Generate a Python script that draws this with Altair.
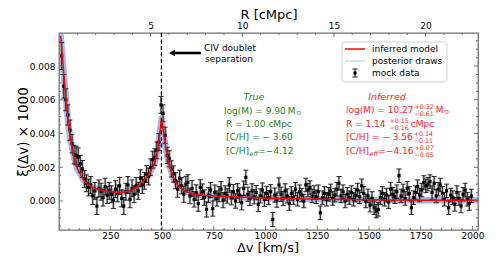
import altair as alt
import pandas as pd

# ---------------- data ----------------
dv_mock = [
    15, 25, 35, 45, 55, 65, 75, 85, 95, 105,
    115, 125, 135, 145, 155, 165, 175, 185, 195, 205,
    215, 225, 235, 245, 255, 265, 275, 285, 295, 305,
    315, 325, 335, 345, 355, 365, 375, 385, 395, 405,
    415, 425, 435, 445, 455, 465, 475, 485, 495, 505,
    515, 525, 535, 545, 555, 565, 575, 585, 595, 605,
    615, 625, 635, 645, 655, 665, 675, 685, 695, 705,
    715, 725, 735, 745, 755, 765, 775, 785, 795, 805,
    815, 825, 835, 845, 855, 865, 875, 885, 895, 905,
    915, 925, 935, 945, 955, 965, 975, 985, 995, 1005,
    1015, 1025, 1035, 1045, 1055, 1065, 1075, 1085, 1095, 1105,
    1115, 1125, 1135, 1145, 1155, 1165, 1175, 1185, 1195, 1205,
    1215, 1225, 1235, 1245, 1255, 1265, 1275, 1285, 1295, 1305,
    1315, 1325, 1335, 1345, 1355, 1365, 1375, 1385, 1395, 1405,
    1415, 1425, 1435, 1445, 1455, 1465, 1475, 1485, 1495, 1505,
    1515, 1525, 1535, 1545, 1555, 1565, 1575, 1585, 1595, 1605,
    1615, 1625, 1635, 1645, 1655, 1665, 1675, 1685, 1695, 1705,
    1715, 1725, 1735, 1745, 1755, 1765, 1775, 1785, 1795, 1805,
    1815, 1825, 1835, 1845, 1855, 1865, 1875, 1885, 1895, 1905,
    1915, 1925, 1935, 1945, 1955, 1965, 1975, 1985, 1995,
]
# xi(dv) in units of 1e-3
xi_mock_e3 = [
    8.6, 6.8, 6.0, 5.1, 4.2, 3.4, 2.75, 2.7, 2.6, 2.2,
    1.9, 1.3, 1.05, 0.8, 0.95, 0.3, 0.6, -0.3, 0.75, 0.55,
    0.2, 0.85, 0.35, 0.6, 0.4, 0.05, 0.7, 0.45, 0.9, 0.15,
    -0.3, 0.55, 0.95, 0.1, 0.75, 0.4, 0.9, 0.6, 1.35, 0.95,
    1.2, 1.6, 1.45, 2.0, 2.45, 2.6, 3.0, 3.5, 5.7, 5.2,
    3.9, 2.7, 2.5, 1.9, 1.6, 1.2, 0.7, 1.35, 0.9, 0.4,
    1.0, 1.1, 0.3, 0.75, 0.1, 0.5, -0.15, 0.8, 0.55, 0.2,
    -0.5, 0.35, 0.65, -0.45, 0.5, 0.15, 0.4, 0.7, 0.05, 0.45,
    0.3, 0.95, 0.2, 0.55, 0.0, 0.6, 0.35, -0.1, 0.75, 1.4,
    0.4, 0.15, 0.6, 0.25, 0.5, -0.2, 0.3, 0.65, 0.1, 0.45,
    0.2, 0.55, -1.1, 0.35, 0.05, 0.95, 0.4, 0.15, 0.6, 0.3,
    -0.15, 0.45, 0.2, 0.7, 0.1, 0.55, 0.35, 0.0, 0.95, 0.65,
    0.8, 0.3, 0.5, 0.25, 0.55, -0.7, 0.2, 0.45, 0.1, 0.4,
    0.6, 0.15, 0.35, 0.7, 1.05, 0.3, 0.55, 0.0, 0.4, 0.2,
    0.5, 0.1, 0.35, 0.65, 0.25, 0.9, 0.45, 0.0, 0.3, -0.25,
    0.15, -0.4, -0.6, -0.5, 0.2, 0.45, 0.1, 0.35, -0.05, 0.7,
    0.4, 0.25, 0.55, 1.5, 0.3, 0.6, 0.15, 0.75, 0.45, -0.4,
    0.2, 0.5, 0.85, 0.35, 0.65, 1.1, 0.9, 1.0, 1.15, 0.5,
    1.05, 0.3, 0.7, 0.95, 0.45, 0.1, 0.6, -0.4, 0.35, 0.2,
    -0.2, 0.5, 0.15, -0.3, 0.4, 0.65, 0.1, -0.15, 0.3,
]
err_mock_e3 = [
    0.8, 0.7, 0.65, 0.6, 0.6, 0.55, 0.55, 0.55, 0.55, 0.5,
    0.5, 0.5, 0.5, 0.5, 0.5, 0.5, 0.5, 0.5, 0.5, 0.5,
    0.5, 0.5, 0.5, 0.5, 0.5, 0.5, 0.5, 0.5, 0.5, 0.5,
    0.5, 0.5, 0.5, 0.5, 0.5, 0.5, 0.5, 0.5, 0.5, 0.5,
    0.5, 0.5, 0.5, 0.5, 0.5, 0.5, 0.5, 0.5, 0.5, 0.5,
    0.48, 0.48, 0.48, 0.48, 0.48, 0.48, 0.48, 0.48, 0.48, 0.48,
    0.46, 0.46, 0.46, 0.46, 0.46, 0.46, 0.46, 0.46, 0.46, 0.46,
    0.45, 0.45, 0.45, 0.45, 0.45, 0.45, 0.45, 0.45, 0.45, 0.45,
    0.43, 0.43, 0.43, 0.43, 0.43, 0.43, 0.43, 0.43, 0.43, 0.43,
    0.42, 0.42, 0.42, 0.42, 0.42, 0.42, 0.42, 0.42, 0.42, 0.42,
    0.42, 0.42, 0.42, 0.42, 0.42, 0.42, 0.42, 0.42, 0.42, 0.42,
    0.4, 0.4, 0.4, 0.4, 0.4, 0.4, 0.4, 0.4, 0.4, 0.4,
    0.4, 0.4, 0.4, 0.4, 0.4, 0.4, 0.4, 0.4, 0.4, 0.4,
    0.4, 0.4, 0.4, 0.4, 0.4, 0.4, 0.4, 0.4, 0.4, 0.4,
    0.4, 0.4, 0.4, 0.4, 0.4, 0.4, 0.4, 0.4, 0.4, 0.4,
    0.4, 0.4, 0.4, 0.4, 0.4, 0.4, 0.4, 0.4, 0.4, 0.4,
    0.4, 0.4, 0.4, 0.4, 0.4, 0.4, 0.4, 0.4, 0.4, 0.4,
    0.4, 0.4, 0.4, 0.4, 0.4, 0.4, 0.4, 0.4, 0.4, 0.4,
    0.4, 0.4, 0.4, 0.4, 0.4, 0.4, 0.4, 0.4, 0.4, 0.4,
    0.4, 0.4, 0.4, 0.4, 0.4, 0.4, 0.4, 0.4, 0.4,
]
dv_model = [10, 20, 30, 40, 50, 60, 70, 80, 90, 100,
            120, 140, 160, 180, 200, 225, 250, 275, 300, 325,
            350, 375, 400, 420, 440, 455, 465, 475, 485, 490,
            495, 498, 505, 510, 520, 530, 540, 550, 560, 575,
            590, 610, 630, 650, 700, 750, 800, 900, 1000, 1200,
            1400, 1600, 1800, 2000, 2027]
xi_model_e3 = [9.8, 8.3, 6.8, 5.4, 4.3, 3.5, 2.9, 2.35, 1.95, 1.7,
               1.25, 1.0, 0.83, 0.74, 0.67, 0.6, 0.56, 0.52, 0.51, 0.55,
               0.64, 0.8, 1.05, 1.3, 1.65, 2.0, 2.3, 2.8, 3.6, 4.1,
               4.6, 4.9, 4.2, 3.8, 3.0, 2.4, 1.95, 1.55, 1.25, 0.95,
               0.76, 0.6, 0.5, 0.42, 0.34, 0.29, 0.26, 0.22, 0.18, 0.12,
               0.09, 0.06, 0.05, 0.04, 0.04]
civ_sep = [497]

v_ticks_major = [250, 500, 750, 1000, 1250, 1500, 1750, 2000]
v_ticks_minor = [50, 100, 150, 200, 300, 350, 400, 450, 550, 600, 650, 700,
                 800, 850, 900, 950, 1050, 1100, 1150, 1200, 1300, 1350, 1400,
                 1450, 1550, 1600, 1650, 1700, 1800, 1850, 1900, 1950]
y_ticks_major = [0.0, 0.002, 0.004, 0.006, 0.008]
y_ticks_minor = [-0.0015, -0.001, -0.0005, 0.0005, 0.001, 0.0015, 0.0025, 0.003,
                 0.0035, 0.0045, 0.005, 0.0055, 0.0065, 0.007, 0.0075, 0.0085,
                 0.009, 0.0095]
r_ticks_major = [5, 10, 15, 20]
r_ticks_minor = [1, 2, 3, 4, 6, 7, 8, 9, 11, 12, 13, 14, 16, 17, 18, 19, 21, 22]

V_DOMAIN = [2, 2027]
R_DOMAIN = [0, 22.86]
Y_DOMAIN = [-0.00172, 0.00996]

# ---------------- layout ----------------
W, H = 419, 197
LEFT, TOP = 59, 33
FONT = "DejaVu Sans"
FRAME = "#707070"
MAIN = 9.0      # annotation font size
SMALL = 6.3     # super/subscript font size

# approximate DejaVu Sans advance widths (em) for chaining text pieces
EM = {" ": 0.318, "(": 0.390, ")": 0.390, "=": 0.838, "+": 0.838, "−": 0.838,
      ".": 0.318, "l": 0.278, "o": 0.612, "g": 0.635, "M": 0.863, "R": 0.695,
      "[": 0.390, "]": 0.390, "C": 0.698, "/": 0.337, "H": 0.752, "c": 0.550,
      "p": 0.635, "e": 0.615, "f": 0.352}


def tw(s, size):
    return sum(EM.get(ch, 0.636) for ch in s) * size


mock = pd.DataFrame({
    "v": dv_mock,
    "y": [a / 1000 for a in xi_mock_e3],
    "lo": [(a - e) / 1000 for a, e in zip(xi_mock_e3, err_mock_e3)],
    "hi": [(a + e) / 1000 for a, e in zip(xi_mock_e3, err_mock_e3)],
})
model = pd.DataFrame({"v": dv_model, "y": [a / 1000 for a in xi_model_e3]})

vscale = alt.Scale(domain=V_DOMAIN, nice=False, zero=False)
yscale = alt.Scale(domain=Y_DOMAIN, nice=False, zero=False)
rscale = alt.Scale(domain=R_DOMAIN, nice=False, zero=False)

v_axis = alt.Axis(values=v_ticks_major, format="d", ticks=False, tickSize=0,
                  domain=False, grid=False, labelFontSize=9, labelPadding=1,
                  title=None, labelColor="black", labelFont=FONT, labelFlush=False)
y_axis = alt.Axis(values=y_ticks_major, format=".3f", ticks=False, tickSize=0,
                  domain=False, grid=False, labelFontSize=9, labelPadding=4,
                  title=None, labelColor="black", labelFont=FONT)
r_axis = alt.Axis(orient="top", values=r_ticks_major, format="d", ticks=False,
                  tickSize=0, domain=False, grid=False, labelFontSize=9,
                  labelPadding=3, title=None, labelColor="black", labelFont=FONT,
                  labelFlush=False)


def X(f):
    return alt.X(f"{f}:Q", scale=vscale, axis=v_axis)


def Y(f):
    return alt.Y(f"{f}:Q", scale=yscale, axis=y_axis)


def label(s, xa, ya, size=MAIN, color="black", align="left", italic=False,
          angle=0, baseline="middle"):
    return alt.Chart(pd.DataFrame({"t": [s]})).mark_text(
        align=align, baseline=baseline, font=FONT, fontSize=size, color=color,
        fontStyle="italic" if italic else "normal", angle=angle,
    ).encode(text="t:N", x=alt.value(xa - LEFT), y=alt.value(ya - TOP))


def seg(x1, x2, ya, color, width, yb=None):
    return alt.Chart(pd.DataFrame({"a": [0]})).mark_rule(
        color=color, strokeWidth=width
    ).encode(x=alt.value(x1 - LEFT), x2=alt.value(x2 - LEFT),
             y=alt.value(ya - TOP), y2=alt.value((ya if yb is None else yb) - TOP))


def value_line(x0, y0, color, main, sup=None, sub=None, unit=None, odot=False,
               eff=None):
    """Chain text pieces: main [eff] rest, then stacked sup/sub, then unit."""
    out = []
    x = x0
    if eff is not None:
        head, tail = main
        out.append(label(head, x, y0, color=color))
        x += tw(head, MAIN) + 0.4
        out.append(label("eff", x, y0 + 2.5, size=SMALL, color=color, italic=True))
        x += tw("eff", SMALL) + 0.5
        out.append(label(tail, x, y0, color=color))
        x += tw(tail, MAIN)
    else:
        out.append(label(main, x, y0, color=color))
        x += tw(main, MAIN)
    if sup is not None:
        x += 1.0
        out.append(label(sup, x, y0 - 3.2, size=SMALL, color=color))
        out.append(label(sub, x, y0 + 3.6, size=SMALL, color=color))
        x += max(tw(sup, SMALL), tw(sub, SMALL))
    if unit is not None:
        x += 2.0
        out.append(label(unit, x, y0, color=color))
        x += tw(unit, MAIN)
        if odot:
            out.append(label("⊙", x + 0.3, y0 + 2.2, size=SMALL, color=color))
    return out


# ---------------- data layers ----------------
band = alt.Chart(model).mark_line(color="#5a8fe6", strokeWidth=6.5, opacity=0.6,
                                  strokeJoin="round", strokeCap="round", clip=True
                                  ).encode(x=X("v"), y=Y("y"))
err_halo = alt.Chart(mock).mark_rule(color="#9a9a9a", strokeWidth=2.6, opacity=0.6
                                     ).encode(x=X("v"), y=Y("lo"), y2="hi:Q")
err_line = alt.Chart(mock).mark_rule(color="#111111", strokeWidth=0.9
                                     ).encode(x=X("v"), y=Y("lo"), y2="hi:Q")
cap_lo = alt.Chart(mock).mark_rule(color="#111111", strokeWidth=0.9, xOffset=-2.5,
                                   x2Offset=2.5).encode(x=X("v"), x2="v:Q", y=Y("lo"))
cap_hi = alt.Chart(mock).mark_rule(color="#111111", strokeWidth=0.9, xOffset=-2.5,
                                   x2Offset=2.5).encode(x=X("v"), x2="v:Q", y=Y("hi"))
pts = alt.Chart(mock).mark_point(shape="square", filled=True, size=10, color="black",
                                 opacity=1).encode(x=X("v"), y=Y("y"))
model_line = alt.Chart(model).mark_line(color="red", strokeWidth=1.5, clip=True
                                        ).encode(x=X("v"), y=Y("y"))
dashed = alt.Chart(pd.DataFrame({"v": civ_sep})).mark_rule(
    color="black", strokeDash=[4, 2.5], strokeWidth=1.2).encode(x=X("v"))


# inward ticks
def vticks(vals, length):
    return alt.Chart(pd.DataFrame({"v": vals})).mark_rule(color=FRAME, strokeWidth=1).encode(
        x=X("v"), y=alt.value(H), y2=alt.value(H - length))


def yticks(vals, length, right=False):
    x0 = W if right else 0
    x1 = W - length if right else length
    return alt.Chart(pd.DataFrame({"y": vals})).mark_rule(color=FRAME, strokeWidth=1).encode(
        y=Y("y"), x=alt.value(x0), x2=alt.value(x1))


def rticks(vals, length):
    return alt.Chart(pd.DataFrame({"r": vals})).mark_rule(color=FRAME, strokeWidth=1).encode(
        x=alt.X("r:Q", scale=rscale, axis=r_axis), y=alt.value(0), y2=alt.value(length))


# ---------------- annotations ----------------
GREEN = "#1a7f1a"
RED = "#ff1a1a"
texts = [
    # axis titles
    label("R [cMpc]", 269, 18.8, size=13, align="center", baseline="alphabetic"),
    label("Δv [km/s]", 268, 252, size=13, align="center", baseline="alphabetic"),
    label("ξ(Δv) × 1000", 24, 132, size=13.5, align="center", angle=270),
    # arrow annotation
    label("CIV doublet", 230, 48, align="center"),
    label("separation", 229, 59, align="center"),
    # block headers
    label("True", 254, 97, color=GREEN, italic=True, size=9.5, align="center"),
    label("Inferred", 387, 97, color=RED, italic=True, size=9.5, align="center"),
    # legend text
    label("inferred model", 372, 49),
    label("posterior draws", 372, 61),
    label("mock data", 372, 73),
]
texts += value_line(224, 111, GREEN, "log(M) = 9.90", unit="M", odot=True)
texts += value_line(226, 124, GREEN, "R  = 1.00 cMpc")
texts += value_line(226, 137, GREEN, "[C/H] = − 3.60")
texts += value_line(226, 151, GREEN, ("[C/H]", "=−4.12"), eff=True)
texts += value_line(346, 110, RED, "log(M) = 10.27", "+0.32", "−0.61", unit="M", odot=True)
texts += value_line(346, 124, RED, "R  = 1.14", "+0.15", "−0.16", unit="cMpc")
texts += value_line(346, 137, RED, "[C/H] = − 3.56", "+0.14", "−0.11")
texts += value_line(346, 151, RED, ("[C/H]", "=−4.16"), "+0.07", "−0.05", eff=True)

legend_box = alt.Chart(pd.DataFrame({"a": [0]})).mark_rect(
    fill="white", stroke="#cccccc", strokeWidth=1, cornerRadius=3, opacity=0.9
).encode(x=alt.value(342 - LEFT), x2=alt.value(447 - LEFT),
         y=alt.value(42 - TOP), y2=alt.value(82 - TOP))
legend_marks = [
    seg(345, 365, 49, "red", 1.5),
    seg(345, 365, 61, "#b8cfee", 1.2),
    seg(355, 355, 69, "#111111", 1.0, yb=77),
    seg(352.5, 357.5, 69, "#111111", 1.0),
    seg(352.5, 357.5, 77, "#111111", 1.0),
    alt.Chart(pd.DataFrame({"a": [0]})).mark_point(
        shape="square", filled=True, size=10, color="black", opacity=1
    ).encode(x=alt.value(355 - LEFT), y=alt.value(73 - TOP)),
]

arrow = [
    seg(175, 201, 53, "black", 2.6),
    alt.Chart(pd.DataFrame({"a": [0]})).mark_point(
        shape="triangle-left", filled=True, size=45, color="black", opacity=1
    ).encode(x=alt.value(172 - LEFT), y=alt.value(53 - TOP)),
]

inner_v = alt.layer(
    band, err_halo, err_line, cap_lo, cap_hi, pts, model_line, dashed,
    vticks(v_ticks_major, 4), vticks(v_ticks_minor, 2),
    yticks(y_ticks_major, 4), yticks(y_ticks_minor, 2),
    yticks(y_ticks_major, 4, right=True), yticks(y_ticks_minor, 2, right=True),
    legend_box, *legend_marks, *arrow, *texts,
)
inner_r = alt.layer(rticks(r_ticks_major, 4), rticks(r_ticks_minor, 2))

chart = alt.layer(inner_v, inner_r).resolve_scale(x="independent").properties(
    width=W, height=H,
    autosize=alt.AutoSizeParams(type="none"),
    padding={"left": LEFT - 8, "top": TOP - 8, "right": 12, "bottom": 24},
    background="white",
).configure_view(stroke=FRAME, strokeWidth=1.3)

chart.save("out.html", embed_options={"renderer": "svg", "actions": False})
